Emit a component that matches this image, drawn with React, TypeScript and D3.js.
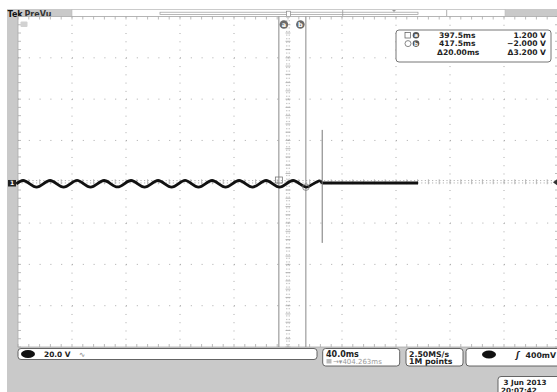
import React from 'react'
import * as d3 from 'd3'

// scope settings
const timePerDiv = 40 // ms
const voltsPerDiv = 20 // V
const horizCenter = 404.263 // ms, delay readout
const ch1Position = -0.03 // divisions
const triggerLevel = 0.4 // V

// cursors
const cursorTimes = [397.5, 417.5]
const cursorVolts = [1.2, -2.0]
const cursorNames = ['a', 'b']

// 50 Hz ripple, sampled every 5 ms from 203 ms
const waveStart = 203
const waveStep = 5
const waveVolts = [
  -0.4, 1.2, -0.4, -2.0, -0.4, 1.2, -0.4, -2.0, -0.4, 1.3, -0.4, -2.0,
  -0.4, 1.2, -0.4, -1.9, -0.4, 1.2, -0.4, -2.0, -0.4, 1.2, -0.4, -2.0,
  -0.4, 1.3, -0.4, -2.0, -0.4, 1.2, -0.4, -2.0, -0.4, 1.2, -0.4, -2.0,
  -0.4, 1.2, -0.4, -2.0, -0.4, 1.2, -0.4, -2.0, -0.4, 1.2,
]
// after the signal stops: flat trace up to the end of the record
const flatTrace = [
  [430, 0],
  [500.6, 0],
]
const spikeTime = 429.6
const spikeVolts = [25.7, -29.0]

const readoutRows = [
  { icon: 'square', name: 'a', time: '397.5ms', volt: '1.200 V' },
  { icon: 'circle', name: 'b', time: '417.5ms', volt: '\u22122.000 V' },
  { icon: '', name: '', time: '\u039420.00ms', volt: '\u03943.200 V' },
]

const L = 18
const R = 558
const T = 16.5
const B = 347
const divW = (R - L) / 10
const divH = (B - T) / 8

export default function App() {
  const x = d3
    .scaleLinear()
    .domain([horizCenter - 5 * timePerDiv, horizCenter + 5 * timePerDiv])
    .range([L, R])
  const y = d3
    .scaleLinear()
    .domain([(-4 - ch1Position) * voltsPerDiv, (4 - ch1Position) * voltsPerDiv])
    .range([B, T])

  const cx = (L + R) / 2
  const cy = (T + B) / 2

  const wave: [number, number][] = waveVolts.map((v, i) => [waveStart + i * waveStep, v])
  const waveLine = d3
    .line<[number, number]>()
    .x((d) => x(d[0]))
    .y((d) => y(d[1]))
    .curve(d3.curveNatural)
  const straight = d3
    .line<number[]>()
    .x((d) => x(d[0]))
    .y((d) => y(d[1]))
    .curve(d3.curveMonotoneX)

  const vLines = d3.range(1, 10).filter((k) => k !== 5)
  const hLines = d3.range(1, 8).filter((k) => k !== 4)
  const xMinor = d3.range(0, 51).map((k) => L + (k * divW) / 5)
  const yMinor = d3.range(0, 41).map((k) => T + (k * divH) / 5)

  const txt = { fontFamily: 'DejaVu Sans', fontWeight: 'bold' as const, fill: '#222' }

  return (
    <svg
      width={557}
      height={392}
      style={{ position: 'absolute', left: 0, top: 0 }}
      fontFamily="DejaVu Sans"
    >
      <rect x={0} y={0} width={557} height={392} fill="#fff" />
      <rect x={7} y={9} width={550} height={383} fill="#c9c9c9" />

      {/* top bar */}
      <text x={7.5} y={16.5} fontSize={8} {...txt} fill="#111">
        Tek
      </text>
      <text x={24.5} y={16.5} fontSize={8} {...txt} fill="#333">
        PreVu
      </text>
      <rect x={72} y={9.5} width={433} height={7} fill="#fff" stroke="#bbb" strokeWidth={0.6} />
      <rect x={160} y={12.2} width={258} height={2.2} fill="none" stroke="#999" strokeWidth={0.7} />
      <line x1={342.7} x2={342.7} y1={10} y2={16.5} stroke="#999" strokeWidth={0.8} />
      <line x1={446.7} x2={446.7} y1={10} y2={16.5} stroke="#999" strokeWidth={0.8} />
      <path d="M392,10 L396,10 L394,12 Z" fill="#999" />
      <rect x={286.5} y={11.2} width={4} height={6.5} fill="#fff" stroke="#888" strokeWidth={0.7} />

      {/* graticule */}
      <rect x={L} y={T} width={R - L} height={B - T} fill="#fff" stroke="#aaa" strokeWidth={0.8} />
      {vLines.map((k) => (
        <line
          key={'v' + k}
          x1={L + k * divW}
          x2={L + k * divW}
          y1={T}
          y2={B}
          stroke="#aaa"
          strokeWidth={1}
          strokeDasharray={`1,${divH / 5 - 1}`}
        />
      ))}
      {hLines.map((k) => (
        <line
          key={'h' + k}
          x1={L}
          x2={R}
          y1={T + k * divH}
          y2={T + k * divH}
          stroke="#aaa"
          strokeWidth={1}
          strokeDasharray={`1,${divW / 5 - 1}`}
        />
      ))}
      {xMinor.map((px, i) => (
        <g key={'xm' + i} stroke="#aaa" strokeWidth={0.8}>
          <line x1={px} x2={px} y1={T} y2={T + 3} />
          <line x1={px} x2={px} y1={B - 3} y2={B} />
          <line x1={px} x2={px} y1={cy - 2.5} y2={cy + 2.5} />
        </g>
      ))}
      {yMinor.map((py, i) => (
        <g key={'ym' + i} stroke="#aaa" strokeWidth={0.8}>
          <line x1={L} x2={L + 3} y1={py} y2={py} />
          <line x1={R - 3} x2={R} y1={py} y2={py} />
          <line x1={cx - 2.5} x2={cx + 2.5} y1={py} y2={py} />
        </g>
      ))}
      {[-1.2, 1.2].map((o) => (
        <g key={'c' + o} stroke="#aaa" strokeWidth={0.9} strokeDasharray="1.2,2.4">
          <line x1={L} x2={R} y1={cy + o} y2={cy + o} />
          <line x1={cx + o} x2={cx + o} y1={T} y2={B} />
        </g>
      ))}

      {/* cursors */}
      {cursorTimes.map((t, i) => (
        <line key={'cur' + i} x1={x(t)} x2={x(t)} y1={T} y2={B} stroke="#888" strokeWidth={1} />
      ))}
      {cursorTimes.map((t, i) => {
        const lx = i === 0 ? x(t) + 5 : x(t) - 5.5
        return (
          <g key={'cl' + i}>
            <circle cx={lx} cy={24.5} r={4.3} fill="#6a6a6a" />
            <text x={lx} y={26.8} fontSize={6.5} textAnchor="middle" {...txt} fill="#fff">
              {cursorNames[i]}
            </text>
          </g>
        )
      })}

      {/* waveform */}
      <path d={waveLine(wave) ?? ''} fill="none" stroke="#111" strokeWidth={2.8} strokeLinejoin="round" />
      <path
        d={straight([wave[wave.length - 1], ...flatTrace]) ?? ''}
        fill="none"
        stroke="#111"
        strokeWidth={2.8}
      />
      <line
        x1={x(spikeTime)}
        x2={x(spikeTime)}
        y1={y(spikeVolts[0])}
        y2={y(spikeVolts[1])}
        stroke="#777"
        strokeWidth={1}
      />
      <rect
        x={x(cursorTimes[0]) - 3.5}
        y={y(cursorVolts[0]) - 3.5}
        width={7}
        height={6}
        fill="none"
        stroke="#777"
        strokeWidth={0.8}
      />
      <circle cx={x(cursorTimes[1])} cy={y(cursorVolts[1])} r={3.3} fill="none" stroke="#777" strokeWidth={0.8} />

      {/* left strip markers */}
      <rect x={8} y={y(0) - 3} width={8} height={6.5} fill="#222" />
      <text x={12} y={y(0) + 2.5} fontSize={6} textAnchor="middle" {...txt} fill="#fff">
        1
      </text>
      <rect x={20.5} y={21.5} width={7} height={5.5} rx={1} fill="#d2d2d2" />
      <path d={`M557,${y(triggerLevel) - 3} L553,${y(triggerLevel)} L557,${y(triggerLevel) + 3} Z`} fill="#333" />

      {/* cursor readout */}
      <rect x={396} y={30} width={155} height={32} rx={3} fill="#fff" stroke="#666" strokeWidth={0.9} />
      {readoutRows.map((r, i) => {
        const ry = 38 + i * 8.3
        return (
          <g key={'rr' + i}>
            {r.icon === 'square' && (
              <rect x={405} y={ry - 5.5} width={5.5} height={5.5} fill="none" stroke="#555" strokeWidth={0.7} />
            )}
            {r.icon === 'circle' && <circle cx={408} cy={ry - 2.7} r={3} fill="none" stroke="#555" strokeWidth={0.7} />}
            {r.name && (
              <g>
                <circle cx={416} cy={ry - 2.7} r={3.3} fill="#555" />
                <text x={416} y={ry - 0.6} fontSize={5.5} textAnchor="middle" {...txt} fill="#fff">
                  {r.name}
                </text>
              </g>
            )}
            <text x={i === 2 ? 437 : 439} y={ry} fontSize={7.6} {...txt}>
              {r.time}
            </text>
            <text x={546} y={ry} fontSize={7.6} textAnchor="end" {...txt}>
              {r.volt}
            </text>
          </g>
        )
      })}

      {/* bottom readouts */}
      <rect x={18} y={348.5} width={299} height={11} rx={3} fill="#fff" stroke="#555" strokeWidth={0.9} />
      <ellipse cx={28} cy={354} rx={7} ry={4} fill="#111" />
      <text x={44} y={357} fontSize={7.4} {...txt}>
        20.0 V
      </text>
      <text x={79} y={357} fontSize={7.4} fill="#777" fontFamily="DejaVu Sans">
        {'\u223F'}
      </text>

      <rect x={322.7} y={348.5} width={77} height={17.5} rx={3} fill="#fff" stroke="#555" strokeWidth={0.9} />
      <text x={326} y={356.5} fontSize={8} {...txt}>
        40.0ms
      </text>
      <rect x={326.5} y={359} width={5} height={4.5} fill="#bbb" />
      <text x={333} y={364.3} fontSize={7} fill="#999" fontFamily="DejaVu Sans">
        {'\u2192\u25BE404.263ms'}
      </text>

      <rect x={406} y={348.5} width={57} height={17.5} rx={3} fill="#fff" stroke="#555" strokeWidth={0.9} />
      <text x={409} y={356.5} fontSize={7.8} {...txt}>
        2.50MS/s
      </text>
      <text x={409} y={364.3} fontSize={7.8} {...txt}>
        1M points
      </text>

      <rect x={466} y={348.5} width={96} height={17.5} rx={3} fill="#fff" stroke="#555" strokeWidth={0.9} />
      <ellipse cx={489} cy={354.5} rx={7} ry={4} fill="#111" />
      <text x={516} y={357.5} fontSize={8} {...txt} fontStyle="italic">
        {'\u0283'}
      </text>
      <text x={556} y={357.5} fontSize={7.8} textAnchor="end" {...txt}>
        400mV
      </text>

      <rect x={498} y={376.5} width={64} height={20} rx={3} fill="#fff" stroke="#555" strokeWidth={0.9} />
      <text x={503.5} y={384.5} fontSize={7.2} {...txt}>
        3 Jun 2013
      </text>
      <text x={501} y={392.5} fontSize={7.2} {...txt}>
        20:07:42
      </text>
    </svg>
  )
}
